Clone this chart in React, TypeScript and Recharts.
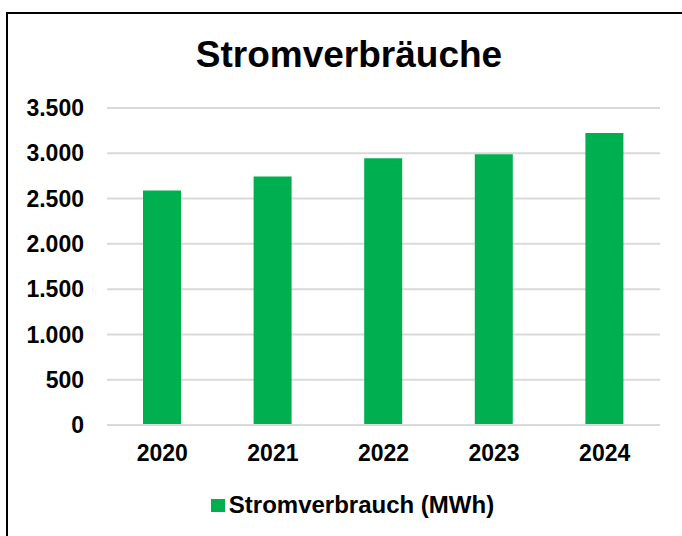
import { BarChart, Bar, XAxis, YAxis, CartesianGrid, Legend } from "recharts";

const years = ["2020", "2021", "2022", "2023", "2024"];
const consumption = [2590, 2745, 2945, 2990, 3225];
const yTicks = [0, 500, 1000, 1500, 2000, 2500, 3000, 3500];

const chartTitle = "Stromverbräuche";
const seriesName = "Stromverbrauch (MWh)";

const GREEN = "#00b050";
const FONT = "'Liberation Sans', Arial, sans-serif";

const data = years.map((year, i) => ({ year, value: consumption[i] }));

// german thousands separator: 3500 -> 3.500
const fmt = (v: number) => String(v).replace(/\B(?=(\d{3})+(?!\d))/g, ".");

function LegendBox() {
  return (
    <div
      style={{
        height: 40,
        display: "flex",
        alignItems: "center",
        justifyContent: "center",
        paddingLeft: 45,
        fontFamily: FONT,
        fontWeight: 700,
        fontSize: 24,
        color: "#000",
      }}
    >
      <span
        style={{
          display: "inline-block",
          width: 14,
          height: 13,
          background: GREEN,
          marginRight: 4,
        }}
      />
      {seriesName}
    </div>
  );
}

export default function App() {
  return (
    <div
      style={{
        position: "absolute",
        left: 0,
        top: 0,
        width: 682,
        height: 536,
        overflow: "hidden",
        background: "#fff",
      }}
    >
      {/* frame, runs off the right and bottom edge */}
      <div
        style={{
          position: "absolute",
          left: 6,
          top: 12,
          width: 720,
          height: 600,
          border: "2px solid #000",
        }}
      />

      <svg
        width={682}
        height={100}
        style={{ position: "absolute", left: 0, top: 0 }}
      >
        <text
          x={349}
          y={67}
          textAnchor="middle"
          fontFamily={FONT}
          fontWeight={700}
          fontSize={37}
          fill="#000"
        >
          {chartTitle}
        </text>
      </svg>

      <div style={{ position: "absolute", left: 0, top: 0 }}>
        <BarChart
          width={682}
          height={536}
          data={data}
          margin={{ top: 108, right: 22, left: 0, bottom: 11 }}
        >
          <CartesianGrid
            vertical={false}
            stroke="#d9d9d9"
            strokeWidth={2}
          />
          <XAxis
            dataKey="year"
            height={60}
            tickLine={false}
            tickSize={8}
            tickMargin={12}
            axisLine={{ stroke: "#d9d9d9", strokeWidth: 2 }}
            tick={{
              fill: "#000",
              fontFamily: FONT,
              fontWeight: 700,
              fontSize: 23,
            }}
          />
          <YAxis
            width={107}
            domain={[0, 3500]}
            ticks={yTicks}
            interval={0}
            axisLine={false}
            tickLine={false}
            tickSize={8}
            tickMargin={15}
            tickFormatter={fmt}
            tick={{
              fill: "#000",
              fontFamily: FONT,
              fontWeight: 700,
              fontSize: 23,
            }}
          />
          <Legend verticalAlign="bottom" content={<LegendBox />} />
          <Bar
            dataKey="value"
            name={seriesName}
            fill={GREEN}
            barSize={38}
            isAnimationActive={false}
          />
        </BarChart>
      </div>
    </div>
  );
}
